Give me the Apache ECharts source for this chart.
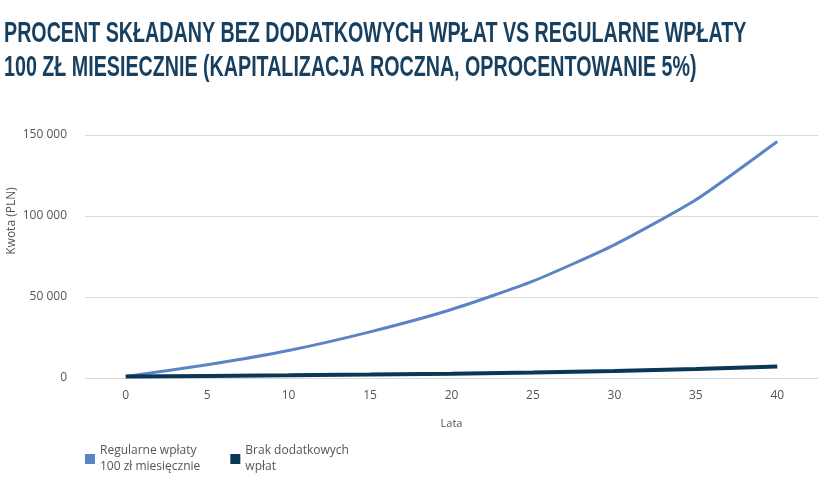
<!DOCTYPE html>
<html>
<head>
<meta charset="utf-8">
<script src="https://cdn.jsdelivr.net/npm/echarts@6/dist/echarts.min.js"></script>
<style>
  html, body { margin: 0; padding: 0; background: #fff; }
  #main { width: 840px; height: 480px; }
</style>
</head>
<body>
<div id="main"></div>
<script>
// years on the x axis
const years = ['0', '5', '10', '15', '20', '25', '30', '35', '40'];
// regular deposits of 100 zl / month
const regularValues = [1000, 8200, 17000, 28500, 42300, 59800, 82200, 110000, 146000];
// no additional deposits
const noDepositValues = [1000, 1300, 1650, 2100, 2700, 3400, 4300, 5500, 7100];
const yTicks = [0, 50000, 100000, 150000];

const titleLines = [
  'PROCENT SKŁADANY BEZ DODATKOWYCH WPŁAT VS REGULARNE WPŁATY',
  '100 ZŁ MIESIECZNIE (KAPITALIZACJA ROCZNA, OPROCENTOWANIE 5%)'
];
const legendNames = {
  'Regularne wpłaty 100 zł miesięcznie': 'Regularne wpłaty\n100 zł miesięcznie',
  'Brak dodatkowych wpłat': 'Brak dodatkowych\nwpłat'
};

const chart = echarts.init(document.getElementById('main'));
const font = '"Open Sans", sans-serif';

const option = {
  backgroundColor: '#fff',
  animation: false,
  graphic: [
    {
      // condensed title: regular bold face squeezed horizontally
      type: 'text',
      x: 4,
      y: 17,
      scaleX: 0.656,
      style: {
        text: titleLines.join('\n'),
        font: 'bold 30px "Liberation Sans", sans-serif',
        lineHeight: 34,
        fill: '#173f5f'
      }
    },
    {
      type: 'text',
      x: 6,
      y: 221,
      rotation: Math.PI / 2,
      style: {
        text: 'Kwota (PLN)',
        font: '12px ' + font,
        fill: '#555',
        align: 'center',
        verticalAlign: 'top'
      }
    }
  ],
  grid: { left: 85, right: 22, top: 135, bottom: 102 },
  legend: {
    left: 80,
    top: 438,
    icon: 'rect',
    itemWidth: 10,
    itemHeight: 10,
    itemGap: 30,
    formatter: (name) => legendNames[name] || name,
    textStyle: { fontFamily: font, fontSize: 12, color: '#555', lineHeight: 16 }
  },
  xAxis: {
    type: 'category',
    data: years,
    name: 'Lata',
    nameLocation: 'middle',
    nameGap: 40,
    nameTextStyle: { fontFamily: font, fontSize: 11, color: '#555' },
    axisLine: { show: false },
    axisTick: { show: false },
    axisLabel: { fontFamily: font, fontSize: 12, color: '#555', margin: 12 }
  },
  yAxis: {
    type: 'value',
    min: 0,
    max: 150000,
    interval: 50000,
    axisLine: { show: false },
    axisTick: { show: false },
    splitLine: { lineStyle: { color: '#d9d9d9', width: 1 } },
    axisLabel: {
      fontFamily: font,
      fontSize: 12,
      color: '#555',
      margin: 18,
      formatter: (v) => yTicks.includes(v) ? String(v).replace(/\B(?=(\d{3})+(?!\d))/g, ' ') : ''
    }
  },
  series: [
    {
      name: 'Regularne wpłaty 100 zł miesięcznie',
      type: 'line',
      data: regularValues,
      symbol: 'none',
      smooth: 0.2,
      itemStyle: { color: '#5b84c4' },
      lineStyle: { color: '#5b84c4', width: 3 }
    },
    {
      name: 'Brak dodatkowych wpłat',
      type: 'line',
      data: noDepositValues,
      symbol: 'none',
      itemStyle: { color: '#0b3656' },
      lineStyle: { color: '#0b3656', width: 4 }
    }
  ]
};

chart.setOption(option);
</script>
</body>
</html>
